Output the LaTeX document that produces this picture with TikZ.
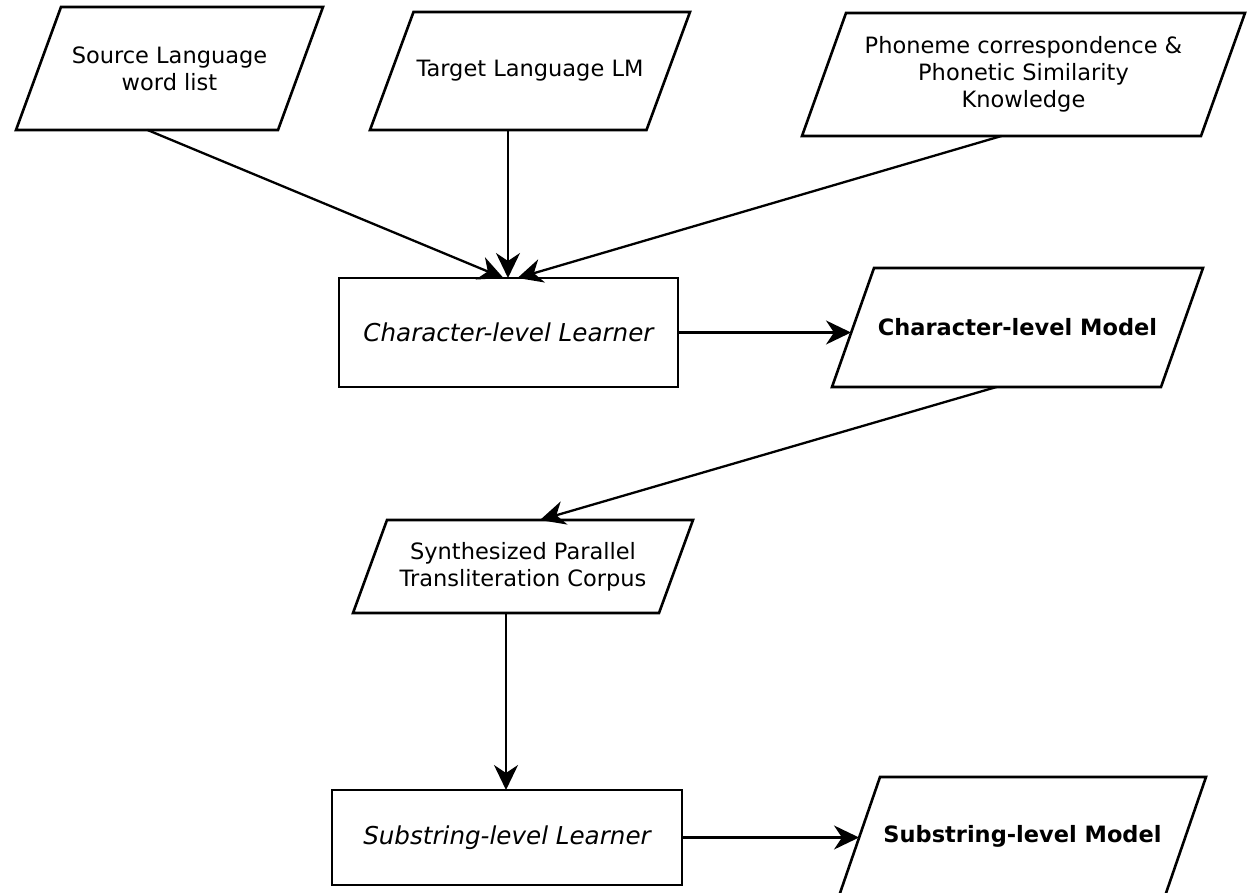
\documentclass[tikz,border=0pt]{standalone}
\usepackage{fontspec}
\setmainfont{DejaVu Sans}
\usetikzlibrary{arrows.meta}

\tikzset{
  txt/.style={align=center, inner sep=0pt, outer sep=0pt,
              font=\fontsize{22.5}{27}\selectfont},
  databox/.style={txt, rectangle},
  procbox/.style={txt, rectangle, font=\fontsize{24.6}{29}\selectfont\itshape},
  boldtxt/.style={font=\fontsize{22.5}{27}\selectfont\bfseries},
  outline/.style={draw=black, line width=2.6pt, line join=miter},
  flow/.style={line width=2.3pt, -{Stealth[length=25pt,width=24pt,inset=8pt]}}
}
% slanted outline around a data node: #1 node name, #2 horizontal slant
\newcommand\parabox[2]{%
  \draw[outline] ([xshift=#2]#1.north west) -- (#1.north east)
    -- ([xshift=-#2]#1.south east) -- (#1.south west) -- cycle;}
% plain outline around a process node
\newcommand\rectbox[1]{%
  \draw[outline] (#1.north west) rectangle (#1.south east);}

\begin{document}
\begin{tikzpicture}[x=1pt, y=-1pt]
  \useasboundingbox[fill=white] (0,0) rectangle (1251,893);

  % inputs
  \node[databox, minimum width=307pt, minimum height=123pt] (src) at (169.5,68.5)
    {Source Language\\word list};
  \parabox{src}{45pt}
  \node[databox, minimum width=320pt, minimum height=118pt] (tlm) at (530,71)
    {Target Language LM};
  \parabox{tlm}{43.5pt}
  \node[databox, minimum width=443pt, minimum height=123pt] (phon) at (1023.5,74.5)
    {Phoneme correspondence \&\\Phonetic Similarity\\Knowledge};
  \parabox{phon}{44pt}

  % character level
  \node[procbox, minimum width=339pt, minimum height=109pt] (clearn) at (508.5,332.5)
    {Character-level Learner};
  \rectbox{clearn}
  \node[databox, boldtxt, minimum width=371pt, minimum height=119pt]
    (cmodel) at (1017.5,327.5) {Character-level Model};
  \parabox{cmodel}{42pt}

  % synthesized corpus
  \node[databox, minimum width=340pt, minimum height=93pt] (synth) at (523,566.5)
    {Synthesized Parallel\\Transliteration Corpus};
  \parabox{synth}{34pt}

  % substring level
  \node[procbox, minimum width=350pt, minimum height=95pt] (slearn) at (507,837.5)
    {Substring-level Learner};
  \rectbox{slearn}
  \node[databox, boldtxt, minimum width=367pt, minimum height=119pt]
    (smodel) at (1022.5,836.5) {Substring-level Model};
  \parabox{smodel}{41pt}

  % connectors
  \draw[flow] ([xshift=-22pt]src.south) -- ([xshift=-5pt]clearn.north);
  \draw[flow] ([xshift=-22pt]tlm.south) -- ([xshift=-22pt]tlm.south |- clearn.north);
  \draw[flow] ([xshift=-22pt]phon.south) -- ([xshift=9pt]clearn.north);
  \draw[flow] (clearn.east) -- ([xshift=19pt]clearn.east -| cmodel.west);
  \draw[flow] ([xshift=-21pt]cmodel.south) -- ([xshift=17pt]synth.north);
  \draw[flow] ([xshift=-17pt]synth.south) -- ([xshift=-17pt]synth.south |- slearn.north);
  \draw[flow] (slearn.east) -- ([xshift=20pt]slearn.east -| smodel.west);
\end{tikzpicture}
\end{document}
